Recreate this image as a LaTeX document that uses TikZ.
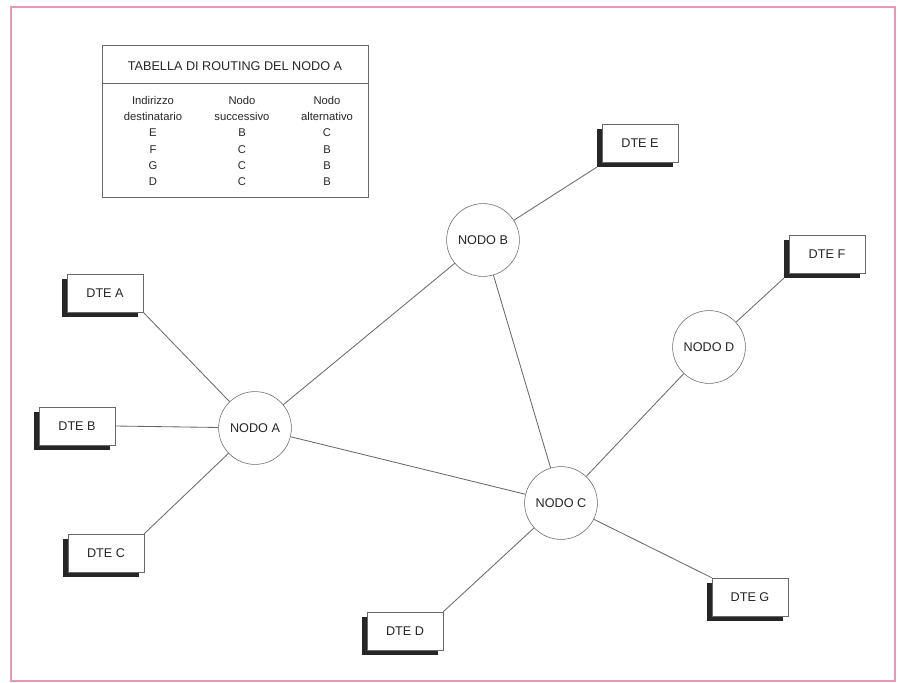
\documentclass[tikz,border=0pt]{standalone}
\usepackage{fontspec}
\setmainfont{Liberation Sans}
\usetikzlibrary{shadows}

\definecolor{framepink}{RGB}{232,150,178}
\definecolor{linkgray}{RGB}{105,105,105}

\begin{document}
\begin{tikzpicture}[
  x=0.025cm, y=-0.025cm,
  every node/.style={text=black!85},
  nodo/.style={circle, draw=linkgray, fill=white, minimum size=1.82cm, inner sep=1pt, font=\fontsize{9}{11}\selectfont},
  dte/.style={rectangle, draw=linkgray, fill=white, minimum width=1.9cm, minimum height=0.95cm, font=\fontsize{9}{11}\selectfont,
    drop shadow={shadow xshift=-0.12cm, shadow yshift=-0.12cm, fill=black!85, opacity=1}},
  link/.style={draw=linkgray, line width=0.6pt},
  cella/.style={align=center, inner sep=0pt, font=\fontsize{8}{11.6}\selectfont}
]
\useasboundingbox (0,0) rectangle (900,683);
\draw[framepink, line width=1.2pt] (11,7) rectangle (895,681);

% tabella di routing
\node[draw=linkgray, minimum width=6.65cm, minimum height=3.8cm, inner sep=0pt] (tab) at (235,121) {};
\draw[linkgray] (102,83) -- (368,83);
\node[font=\fontsize{9}{11}\selectfont] (titolo) at (235,66) {TABELLA DI ROUTING DEL NODO A};
\node[cella] (dest) at (153,141) {Indirizzo\\destinatario\\E\\F\\G\\D};
\node[cella] (succ) at (242,141) {Nodo\\successivo\\B\\C\\C\\C};
\node[cella] (alt) at (327,141) {Nodo\\alternativo\\C\\B\\B\\B};

% nodi
\node[nodo] (A) at (255,428) {NODO A};
\node[nodo] (B) at (483,240) {NODO B};
\node[nodo] (C) at (561,503) {NODO C};
\node[nodo] (D) at (709,347) {NODO D};

% DTE
\node[dte] (dteA) at (105,293) {DTE A};
\node[dte] (dteB) at (77,426) {DTE B};
\node[dte] (dteC) at (106,553) {DTE C};
\node[dte] (dteD) at (405,631) {DTE D};
\node[dte] (dteE) at (640,143) {DTE E};
\node[dte] (dteF) at (827,254) {DTE F};
\node[dte] (dteG) at (750,597) {DTE G};

% collegamenti
\draw[link] (A) -- (B);
\draw[link] (A) -- (C);
\draw[link] (B) -- (C);
\draw[link] (C) -- (D);
\draw[link] (dteA.south east) -- (A);
\draw[link] (dteB.east) -- (A);
\draw[link] (dteC.north east) -- (A);
\draw[link] (dteD.north east) -- (C);
\draw[link] ([shift={(-0.12cm,-0.12cm)}]dteE.south west) -- (B);
\draw[link] ([shift={(-0.12cm,-0.12cm)}]dteF.south west) -- (D);
\draw[link] (dteG.north west) -- (C);

\end{tikzpicture}
\end{document}
